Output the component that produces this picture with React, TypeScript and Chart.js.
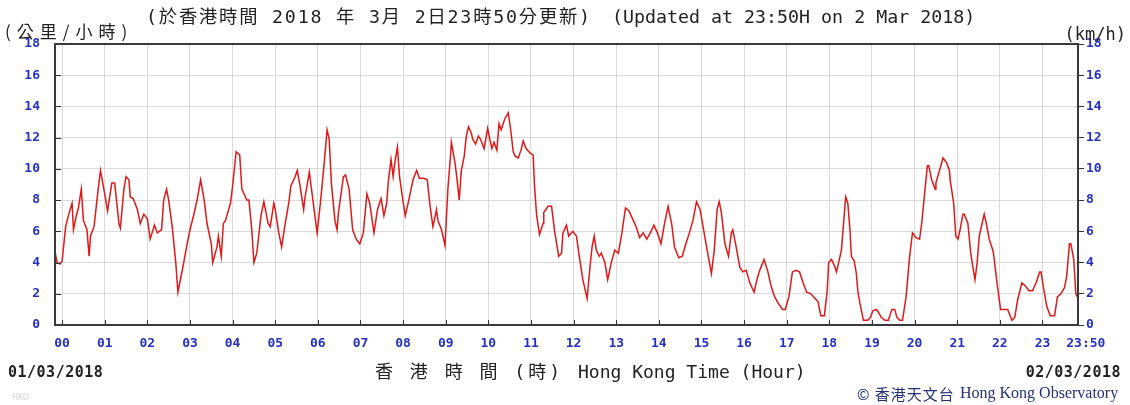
import React, { useEffect, useRef } from "react";
import { Chart, registerables } from "chart.js";

Chart.register(...registerables);

// time in minutes from 00:00 on 02/03/2018 (first point = 23:50 on 01/03/2018)
const minutes = [
  -10, -7, -3, 0, 5, 10, 14, 16, 20, 23, 27, 30, 35, 38, 40, 45, 50, 54, 60, 64,
  70, 74, 77, 80, 82, 87, 90, 94, 96, 100, 106, 110, 115, 120, 124, 130, 134, 140, 143, 147,
  150, 155, 160, 163, 170, 176, 180, 185, 190, 195, 200, 204, 210, 212, 218, 220, 224, 227, 230, 237,
  240, 245, 250, 253, 260, 263, 267, 270, 274, 280, 284, 290, 293, 298, 300, 305, 309, 314, 319, 322,
  328, 331, 335, 340, 342, 348, 353, 359, 364, 369, 373, 376, 379, 384, 387, 389, 396, 399, 404, 409,
  414, 419, 424, 429, 433, 439, 444, 449, 453, 457, 459, 463, 466, 469, 472, 475, 479, 483, 488, 494,
  499, 503, 509, 514, 518, 522, 527, 529, 534, 539, 543, 547, 548, 553, 556, 559, 562, 566, 569, 572,
  576, 578, 582, 586, 589, 594, 599, 602, 605, 608, 612, 615, 618, 623, 628, 632, 635, 638, 642, 646,
  649, 653, 659, 663, 665, 668, 672, 677, 678, 684, 689, 693, 699, 703, 705, 710, 713, 719, 724, 728,
  733, 739, 743, 746, 749, 752, 756, 759, 764, 768, 773, 778, 783, 788, 793, 798, 804, 808, 813, 818,
  823, 828, 833, 838, 843, 848, 853, 858, 862, 868, 873, 878, 883, 888, 893, 898, 903, 908, 914, 918,
  922, 925, 928, 933, 938, 942, 944, 948, 954, 958, 963, 968, 974, 978, 982, 988, 993, 998, 1003, 1008,
  1014, 1018, 1023, 1028, 1033, 1038, 1043, 1048, 1054, 1058, 1064, 1068, 1073, 1077, 1079, 1083, 1088, 1090, 1093, 1097,
  1100, 1103, 1106, 1109, 1111, 1115, 1118, 1120, 1123, 1128, 1134, 1138, 1141, 1146, 1148, 1153, 1158, 1163, 1168, 1172,
  1175, 1179, 1183, 1188, 1193, 1197, 1202, 1207, 1210, 1214, 1218, 1220, 1224, 1229, 1230, 1235, 1240, 1245, 1249, 1250,
  1255, 1258, 1261, 1264, 1268, 1270, 1275, 1279, 1281, 1285, 1288, 1291, 1295, 1298, 1301, 1305, 1310, 1311, 1316, 1321,
  1326, 1331, 1337, 1341, 1345, 1351, 1356, 1361, 1366, 1371, 1376, 1378, 1381, 1386, 1391, 1397, 1401, 1406, 1411, 1414,
  1418, 1420, 1424, 1427, 1430,
];

// wind speed, km/h
const speeds = [
  4.7, 4.0, 3.9, 4.1, 6.3, 7.2, 7.8, 6.1, 7.0, 7.5, 8.7, 6.7, 6.1, 4.4, 5.7, 6.3, 8.4, 9.9, 8.4, 7.3,
  9.1, 9.1, 7.8, 6.5, 6.2, 8.7, 9.5, 9.3, 8.2, 8.1, 7.4, 6.5, 7.1, 6.8, 5.5, 6.4, 5.9, 6.1, 8.0, 8.7,
  8.0, 6.3, 4.0, 2.1, 3.7, 5.2, 6.1, 7.0, 8.0, 9.3, 8.0, 6.5, 5.2, 4.0, 5.0, 5.7, 4.4, 6.5, 6.7, 7.8,
  8.9, 11.1, 10.9, 8.7, 8.0, 8.0, 6.1, 4.0, 4.6, 7.0, 7.9, 6.5, 6.3, 7.8, 7.4, 5.9, 5.0, 6.5, 7.8, 8.9,
  9.5, 9.9, 8.9, 7.4, 8.2, 9.8, 8.0, 5.9, 8.0, 10.4, 12.5, 11.9, 9.1, 6.7, 6.1, 7.2, 9.5, 9.6, 8.7, 6.1,
  5.5, 5.2, 5.9, 8.4, 7.8, 5.9, 7.4, 8.1, 7.0, 7.8, 9.1, 10.6, 9.5, 10.6, 11.4, 9.5, 8.2, 7.0, 8.0, 9.3,
  9.9, 9.4, 9.4, 9.3, 7.6, 6.3, 7.4, 6.7, 6.1, 5.1, 8.7, 11.0, 11.7, 10.4, 9.3, 8.0, 9.9, 10.8, 12.1, 12.7,
  12.3, 11.9, 11.6, 12.1, 11.9, 11.3, 12.6, 11.9, 11.3, 11.7, 11.2, 12.9, 12.5, 13.2, 13.6, 12.3, 11.1, 10.8, 10.7, 11.2,
  11.8, 11.3, 11.0, 10.9, 8.9, 7.0, 5.8, 6.5, 7.2, 7.6, 7.6, 6.1, 4.4, 4.6, 5.9, 6.4, 5.7, 6.0, 5.7, 4.4,
  2.9, 1.7, 3.7, 5.0, 5.7, 4.8, 4.4, 4.6, 4.0, 2.9, 4.0, 4.8, 4.6, 5.9, 7.5, 7.3, 6.7, 6.3, 5.6, 5.9,
  5.5, 5.9, 6.4, 5.9, 5.2, 6.5, 7.6, 6.5, 5.0, 4.3, 4.4, 5.2, 5.9, 6.7, 7.9, 7.4, 6.1, 4.8, 3.3, 4.8,
  7.4, 7.9, 7.2, 5.2, 4.4, 5.9, 6.1, 5.2, 3.7, 3.4, 3.5, 2.7, 2.1, 2.9, 3.5, 4.2, 3.5, 2.5, 1.8, 1.4,
  1.0, 1.0, 1.8, 3.4, 3.5, 3.4, 2.7, 2.1, 2.0, 1.8, 1.5, 0.6, 0.6, 2.2, 4.0, 4.2, 3.7, 3.4, 4.0, 4.8,
  6.5, 8.2, 7.8, 6.1, 4.4, 4.1, 3.3, 2.2, 1.4, 0.3, 0.3, 0.5, 0.9, 1.0, 0.9, 0.5, 0.3, 0.3, 1.0, 1.0,
  0.5, 0.3, 0.3, 1.8, 4.4, 5.9, 5.6, 5.5, 6.5, 8.4, 10.2, 10.2, 9.3, 8.7, 9.1, 9.9, 10.7, 10.4, 9.9, 9.3,
  7.8, 5.7, 5.5, 6.1, 7.1, 7.1, 6.5, 4.6, 4.0, 2.9, 4.0, 5.7, 6.5, 7.1, 6.5, 5.5, 4.8, 4.6, 2.7, 1.0,
  1.0, 1.0, 0.3, 0.5, 1.6, 2.7, 2.5, 2.2, 2.2, 2.7, 3.4, 3.4, 2.5, 1.2, 0.6, 0.6, 1.8, 2.0, 2.4, 3.1,
  5.2, 5.2, 4.2, 2.0, 1.7,
];

const hourLabels = [
  "00", "01", "02", "03", "04", "05", "06", "07", "08", "09", "10", "11",
  "12", "13", "14", "15", "16", "17", "18", "19", "20", "21", "22", "23",
];
const endMinute = 1430;
const endLabel = "  23:50";
const startMinute = -10;
const yTicks = [0, 2, 4, 6, 8, 10, 12, 14, 16, 18];

const titleZh = "(於香港時間 2018 年 3月 2日23時50分更新)";
const titleEn = "(Updated at 23:50H on 2 Mar 2018)";
const unitZh = "(公里/小時)";
const unitEn = "(km/h)";
const dateStart = "01/03/2018";
const dateEnd = "02/03/2018";
const axisZh = "香 港 時 間 (時)";
const axisEn = "Hong Kong Time (Hour)";
const creditZh = "© 香港天文台";
const creditEn = "Hong Kong Observatory";

const MONO = '"DejaVu Sans Mono", "Noto Sans CJK TC", monospace';
const CJK = '"Noto Sans CJK TC", "DejaVu Sans Mono", sans-serif';
const TICK_BLUE = "#2430c4";

const framePlugin = {
  id: "frame",
  afterDraw(chart: any) {
    const { ctx, chartArea: a, scales } = chart;
    ctx.save();
    ctx.strokeStyle = "#333";
    ctx.lineWidth = 1;
    ctx.beginPath();
    hourLabels.forEach((_, i) => {
      const x = Math.round(scales.x.getPixelForValue(i * 60)) + 0.5;
      ctx.moveTo(x, a.bottom);
      ctx.lineTo(x, a.bottom - 5);
    });
    yTicks.forEach((v) => {
      const y = Math.round(scales.y.getPixelForValue(v)) + 0.5;
      ctx.moveTo(a.left, y);
      ctx.lineTo(a.left + 6, y);
    });
    ctx.stroke();
    ctx.lineWidth = 2;
    ctx.strokeStyle = "#3a3a3a";
    ctx.strokeRect(a.left, a.top, a.right - a.left, a.bottom - a.top);
    ctx.restore();
  },
};

type TxtProps = {
  x: number;
  y: number;
  text: string;
  font: string;
  size: number;
  color?: string;
  weight?: string;
  align?: "left" | "right";
  ls?: number;
};

function Txt({ x, y, text, font, size, color = "#222", weight = "normal", align = "left", ls = 0 }: TxtProps) {
  const style: React.CSSProperties = {
    position: "absolute",
    top: y - size / 2,
    lineHeight: `${size}px`,
    fontFamily: font,
    fontSize: size,
    fontWeight: weight as any,
    color,
    whiteSpace: "pre",
    letterSpacing: ls,
  };
  if (align === "left") style.left = x;
  else style.right = 1130 - x;
  return <div style={style}>{text}</div>;
}

export default function App() {
  const ref = useRef<HTMLCanvasElement>(null);

  useEffect(() => {
    const points = minutes.map((m, i) => ({ x: m, y: speeds[i] }));
    const tickFont = { family: MONO, size: 13, weight: "bold" as const };
    const chart = new Chart(ref.current!, {
      type: "line",
      data: {
        datasets: [
          {
            data: points,
            borderColor: "#e01818",
            borderWidth: 1.5,
            pointRadius: 0,
            tension: 0,
            fill: false,
          },
        ],
      },
      options: {
        animation: false,
        responsive: false,
        maintainAspectRatio: false,
        devicePixelRatio: 1,
        layout: { padding: { top: 44, left: 0, right: 0, bottom: 0 } },
        plugins: { legend: { display: false }, tooltip: { enabled: false } },
        scales: {
          x: {
            type: "linear",
            min: startMinute,
            max: endMinute,
            afterBuildTicks: (scale: any) => {
              scale.ticks = [...hourLabels.map((_, i) => ({ value: i * 60 })), { value: endMinute }];
            },
            afterFit: (scale: any) => {
              scale.height = 80;
            },
            ticks: {
              autoSkip: false,
              maxRotation: 0,
              minRotation: 0,
              padding: 11,
              color: TICK_BLUE,
              font: tickFont,
              callback: (_v: any, i: number) => (i < hourLabels.length ? hourLabels[i] : endLabel),
            },
            grid: { color: "#dadada", lineWidth: 1, drawTicks: false },
            border: { display: false },
          },
          y: {
            position: "left",
            min: 0,
            max: 18,
            afterFit: (scale: any) => {
              scale.width = 55;
            },
            ticks: { stepSize: 2, padding: 15, color: TICK_BLUE, font: tickFont },
            grid: { color: "#dadada", lineWidth: 1, drawTicks: false },
            border: { display: false },
          },
          y2: {
            position: "right",
            min: 0,
            max: 18,
            afterFit: (scale: any) => {
              scale.width = 52;
            },
            ticks: { stepSize: 2, padding: 2, color: TICK_BLUE, font: tickFont },
            grid: { drawOnChartArea: false, drawTicks: true, tickLength: 6, tickColor: "#333" },
            border: { display: false },
          },
        },
      },
      plugins: [framePlugin],
    });
    return () => chart.destroy();
  }, []);

  return (
    <div
      style={{
        position: "absolute",
        left: 0,
        top: 0,
        width: 1130,
        height: 405,
        background: "#fff",
        overflow: "hidden",
      }}
    >
      <canvas
        ref={ref}
        width={1130}
        height={405}
        style={{ position: "absolute", left: 0, top: 0, width: 1130, height: 405 }}
      />
      <Txt x={5} y={30} text={unitZh} font={CJK} size={17} ls={6} />
      <Txt x={146} y={17} text={titleZh} font={MONO} size={18.3} ls={1.8} />
      <Txt x={612} y={17} text={titleEn} font={MONO} size={18.3} />
      <Txt x={1126} y={34} text={unitEn} font={MONO} size={17} align="right" />
      <Txt x={8} y={372} text={dateStart} font={MONO} size={15} weight="bold" ls={0.5} />
      <Txt x={1121} y={372} text={dateEnd} font={MONO} size={15} weight="bold" ls={0.5} align="right" />
      <Txt x={375} y={372} text={axisZh} font={MONO} size={18} ls={3} />
      <Txt x={578} y={372} text={axisEn} font={MONO} size={18} />
      <Txt x={857} y={393} text={creditZh} font={CJK} size={15} color="#22307a" ls={1} />
      <Txt x={960} y={393} text={creditEn} font={'"Liberation Serif", serif'} size={16} color="#22307a" />
      <Txt x={12} y={398} text="HKO" font={'"DejaVu Sans", sans-serif'} size={8} color="#d4d4d4" />
    </div>
  );
}
